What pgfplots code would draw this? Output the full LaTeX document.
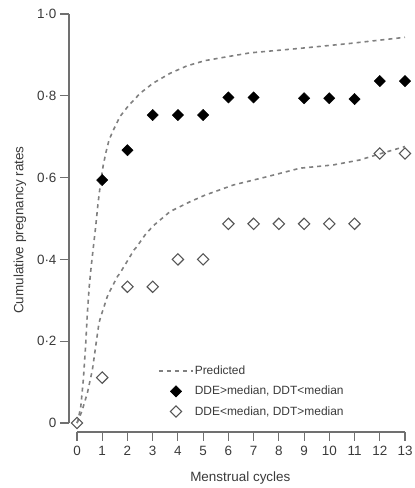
\documentclass[border=0pt]{standalone}
\usepackage{fontspec}
\setmainfont{Liberation Sans}
\usepackage{pgfplots}
\pgfplotsset{compat=1.18}

\definecolor{axisgray}{HTML}{707070}
\definecolor{curvegray}{HTML}{808080}
\definecolor{opengray}{HTML}{555555}
\definecolor{textgray}{HTML}{3A3A3A}

\begin{document}
\begin{tikzpicture}
\begin{axis}[
    at={(0,0)}, anchor=south west,
    scale only axis,
    width=336bp, height=418bp,
    xmin=-0.317, xmax=13,
    ymin=-0.022, ymax=1.0,
    axis x line*=bottom,
    axis y line*=left,
    axis line style={draw=none},
    tick align=outside,
    major tick length=9bp,
    tick style={axisgray, line width=1.1bp},
    xtick={0,1,2,3,4,5,6,7,8,9,10,11,12,13},
    xticklabels={0,1,2,3,4,5,6,7,8,9,10,11,12,13},
    ytick={0,0.2,0.4,0.6,0.8,1.0},
    yticklabels={0,0·2,0·4,0·6,0·8,1·0},
    tick label style={font=\fontsize{13.5}{15}\selectfont, text=textgray},
    xticklabel style={yshift=-2bp},
    xlabel={Menstrual cycles},
    ylabel={Cumulative pregnancy rates},
    label style={font=\fontsize{13.5}{15}\selectfont, text=textgray},
    xlabel style={at={(axis description cs:0.51,-0.11)}, anchor=center},
    ylabel style={at={(axis description cs:-0.146,0.483)}, anchor=center},
    legend image code/.code={\draw[mark repeat=2,mark phase=2,#1]
        plot coordinates {(0bp,0bp)(17bp,0bp)(34bp,0bp)};},
    legend style={at={(axis cs:3.21,0.142)}, anchor=north west,
        draw=none, fill=none, inner sep=0pt, row sep=8bp,
        font=\fontsize{12}{13}\selectfont, text=textgray,
        nodes={inner sep=1bp}},
    legend cell align=left,
    clip=false,
]

% axis lines (offset, as in the original)
\draw[axisgray, line width=1.3bp] (axis cs:-0.317,0) -- (axis cs:-0.317,1.0);
\draw[axisgray, line width=1.3bp] (axis cs:0,-0.022) -- (axis cs:13,-0.022);

% predicted, upper
\addplot[curvegray, line width=1.6bp, dash pattern=on 4bp off 4bp]
  coordinates {
    (0,0) (0.04,0.007) (0.15,0.04) (0.25,0.105) (0.34,0.187)
    (0.41,0.268) (0.48,0.33) (0.55,0.375) (0.63,0.42) (0.74,0.48)
    (0.83,0.535) (0.94,0.59) (1.04,0.63) (1.14,0.66) (1.27,0.692)
    (1.44,0.716) (1.70,0.749) (2.03,0.775) (2.5,0.806) (3.02,0.831)
    (3.69,0.855) (4.35,0.873) (5.07,0.886) (6.0,0.896) (6.86,0.905)
    (8.84,0.916) (10.82,0.928) (13,0.943)
  };
\addlegendentry{Predicted}

% predicted, lower
\addplot[curvegray, line width=1.6bp, dash pattern=on 4bp off 4bp, forget plot]
  coordinates {
    (0,0) (0.08,0.011) (0.21,0.032) (0.41,0.073) (0.61,0.130)
    (0.74,0.187) (0.87,0.244) (0.94,0.26) (1.07,0.284) (1.2,0.309)
    (1.3,0.322) (1.6,0.358) (1.70,0.366) (2.26,0.423) (2.37,0.431)
    (2.7,0.46) (3.02,0.482) (3.69,0.517) (4.48,0.541) (5.07,0.557)
    (6.2,0.582) (7.52,0.602) (8.84,0.623) (10.16,0.631) (11.2,0.643)
    (12.0,0.658) (13,0.676)
  };

% DDE>median, DDT<median
\addplot[only marks, mark=square*, mark size=4bp,
    mark options={rotate=45, fill=black, draw=black}]
  coordinates {
    (1,0.594) (2,0.667) (3,0.753) (4,0.753) (5,0.753)
    (6,0.796) (7,0.796) (9,0.794) (10,0.794) (11,0.792)
    (12,0.836) (13,0.836)
  };
\addlegendentry{DDE>median, DDT<median}

% DDE<median, DDT>median
\addplot[only marks, mark=square, mark size=4bp,
    mark options={rotate=45, fill=white, draw=opengray, line width=1.1bp}]
  coordinates {
    (0,0) (1,0.111) (2,0.333) (3,0.333) (4,0.40) (5,0.40)
    (6,0.487) (7,0.487) (8,0.487) (9,0.487) (10,0.487) (11,0.487)
    (12,0.659) (13,0.659)
  };
\addlegendentry{DDE<median, DDT>median}

\end{axis}
\pgfresetboundingbox
\useasboundingbox (-69bp,-56bp) rectangle (346bp,432bp);
\end{tikzpicture}
\end{document}
